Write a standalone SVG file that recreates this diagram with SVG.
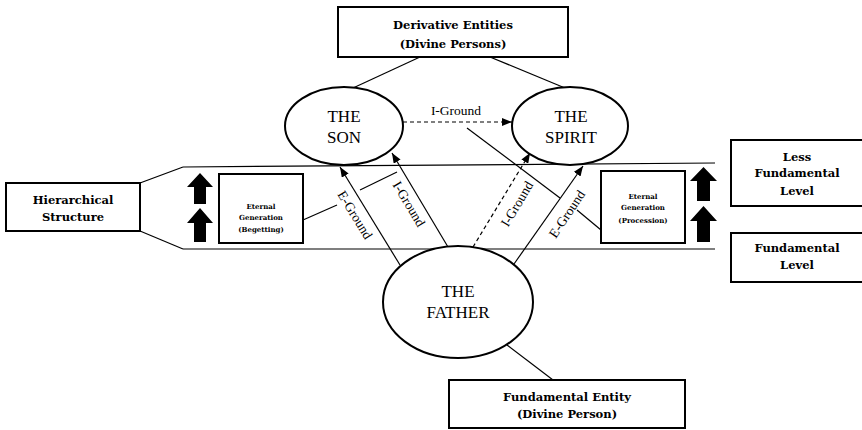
<svg xmlns="http://www.w3.org/2000/svg" width="862" height="430" viewBox="0 0 862 430">
<defs>
<marker id="ah" markerWidth="10" markerHeight="8" refX="10" refY="4" orient="auto" markerUnits="userSpaceOnUse">
<path d="M0,0 L10,4 L0,8 Z" fill="#000"/>
</marker>
<style>
.box{fill:#fff;stroke:#000;stroke-width:2}
.ell{fill:#fff;stroke:#000;stroke-width:2}
.ln{stroke:#000;stroke-width:1.2;fill:none}
.dash{stroke-dasharray:4,3}
.bt{font-family:"DejaVu Serif","Liberation Serif",serif;font-weight:bold;font-size:11.5px;text-anchor:middle;fill:#000}
.st{font-family:"DejaVu Serif","Liberation Serif",serif;font-weight:bold;font-size:7px;text-anchor:middle;fill:#000}
.et{font-family:"Liberation Serif",serif;font-size:17px;text-anchor:middle;fill:#000}
.lt{font-family:"Liberation Serif",serif;font-size:13.5px;text-anchor:middle;dominant-baseline:central;fill:#000}
.blk{fill:#000}
</style>
</defs>
<rect width="862" height="430" fill="#fff"/>

<g id="connectors">
<line class="ln" x1="420" y1="57" x2="353" y2="88"/>
<line class="ln" x1="490" y1="57" x2="565" y2="88"/>
<line class="ln" x1="183" y1="167" x2="715" y2="163"/>
<line class="ln" x1="183" y1="249" x2="715" y2="249"/>
<line class="ln" x1="140" y1="183" x2="183" y2="167"/>
<line class="ln" x1="140" y1="231" x2="183" y2="249"/>
<line class="ln" x1="303" y1="220" x2="337" y2="205"/>
<line class="ln" x1="360" y1="190" x2="397" y2="172"/>
<line class="ln" x1="467" y1="128" x2="560" y2="198"/>
<line class="ln" x1="577" y1="210" x2="601" y2="230"/>
<line class="ln" x1="507" y1="345" x2="553" y2="380"/>
<line class="ln dash" x1="403" y1="122" x2="512" y2="122" marker-end="url(#ah)"/>
<line class="ln" x1="400" y1="265" x2="340" y2="167" marker-end="url(#ah)"/>
<line class="ln" x1="448" y1="247" x2="392" y2="153" marker-end="url(#ah)"/>
<line class="ln dash" x1="473" y1="247" x2="530" y2="153" marker-end="url(#ah)"/>
<line class="ln" x1="514" y1="264" x2="583" y2="166" marker-end="url(#ah)"/>
<text class="lt" x="456" y="110">I-Ground</text>
<text class="lt" transform="translate(355,215) rotate(58.5)">E-Ground</text>
<text class="lt" transform="translate(409,204) rotate(59)">I-Ground</text>
<text class="lt" transform="translate(517,204) rotate(-59)">I-Ground</text>
<text class="lt" transform="translate(567,214) rotate(-56)">E-Ground</text>
</g>

<g id="derivative">
<rect class="box" x="338" y="7" width="230" height="50"/>
<text class="bt" x="453" y="29">Derivative Entities</text>
<text class="bt" x="453" y="48">(Divine Persons)</text>
</g>

<g id="son">
<ellipse class="ell" cx="344" cy="126" rx="59" ry="39"/>
<text class="et" x="344" y="122">THE</text>
<text class="et" x="344" y="143">SON</text>
</g>

<g id="spirit">
<ellipse class="ell" cx="570" cy="126" rx="58" ry="39"/>
<text class="et" x="571" y="122">THE</text>
<text class="et" x="571" y="143">SPIRIT</text>
</g>

<g id="father">
<ellipse class="ell" cx="458" cy="302" rx="75" ry="56"/>
<text class="et" x="458" y="297">THE</text>
<text class="et" x="458" y="318">FATHER</text>
</g>

<g id="fundamental-entity">
<rect class="box" x="449" y="380" width="236" height="48"/>
<text class="bt" x="567" y="401">Fundamental Entity</text>
<text class="bt" x="567" y="418">(Divine Person)</text>
</g>

<g id="hierarchical">
<rect class="box" x="6" y="183" width="134" height="48"/>
<text class="bt" x="73" y="204">Hierarchical</text>
<text class="bt" x="73" y="221">Structure</text>
</g>

<g id="begetting">
<rect class="box" x="219" y="174" width="84" height="69"/>
<text class="st" x="261" y="209">Eternal</text>
<text class="st" x="261" y="220">Generation</text>
<text class="st" x="261" y="232">(Begetting)</text>
</g>

<g id="procession">
<rect class="box" x="601" y="171" width="84" height="72"/>
<text class="st" x="643" y="199">Eternal</text>
<text class="st" x="643" y="210">Generation</text>
<text class="st" x="643" y="223">(Procession)</text>
</g>

<g id="less-fundamental">
<rect class="box" x="731" y="140" width="140" height="66"/>
<text class="bt" x="797" y="161">Less</text>
<text class="bt" x="797" y="177">Fundamental</text>
<text class="bt" x="797" y="195">Level</text>
</g>

<g id="fundamental-level">
<rect class="box" x="731" y="233" width="140" height="49"/>
<text class="bt" x="797" y="252">Fundamental</text>
<text class="bt" x="797" y="269">Level</text>
</g>

<g id="level-arrows">
<polygon class="blk" points="200,173 213,187 206,187 206,204 194,204 194,187 187,187"/>
<polygon class="blk" points="200,208 213,223 206,223 206,242 194,242 194,223 187,223"/>
<polygon class="blk" points="703.5,167 717,181 710,181 710,201 697,201 697,181 690,181"/>
<polygon class="blk" points="703.5,206 717,221 710,221 710,242 697,242 697,221 690,221"/>
</g>
</svg>
